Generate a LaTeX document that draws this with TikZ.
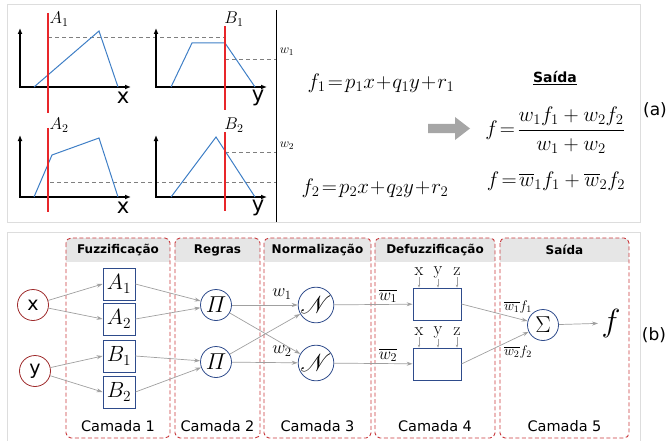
\RequirePackage{fix-cm}
\documentclass[tikz,border=0pt]{standalone}
\usepackage{amsmath}
\usepackage{mathrsfs}
\usepackage{fontspec}
\setsansfont{DejaVu Sans}
\usetikzlibrary{arrows.meta}
\newcommand\myfs[1]{\fontsize{#1}{#1}\selectfont}
\definecolor{plotred}{HTML}{E8262A}
\definecolor{plotblue}{HTML}{3F7FC6}
\definecolor{lvlgray}{HTML}{7F7F7F}
\definecolor{boxred}{HTML}{C8383C}
\definecolor{nodered}{HTML}{9E2A2B}
\definecolor{nodeblue}{HTML}{2E4B8B}
\definecolor{hdrgray}{HTML}{E6E6E6}
\definecolor{conngray}{HTML}{A0A0A0}
\definecolor{panelgray}{HTML}{DDDDDD}
\definecolor{bigarrow}{HTML}{A6A6A6}
\tikzset{
  axisline/.style={{Latex[length=6pt,width=5pt]}-{Latex[length=6pt,width=5pt]}, line width=1.2pt, black},
  mf/.style={plotblue, line width=1pt},
  cutline/.style={plotred, line width=1.1pt},
  lvl/.style={lvlgray, line width=0.8pt, dash pattern=on 4pt off 3pt},
  conn/.style={-{Stealth[length=6pt,width=4pt]}, conngray, line width=0.7pt},
  inp/.style={circle, draw=nodered, line width=0.8pt, minimum size=31pt, inner sep=0pt, font=\sffamily\myfs{19}},
  mfbox/.style={rectangle, draw=nodeblue, line width=0.8pt, minimum width=32pt, minimum height=32pt, inner sep=0pt, font=\myfs{22}},
  rulenode/.style={circle, draw=nodeblue, line width=0.8pt, minimum size=31pt, inner sep=0pt, font=\myfs{23}},
  defbox/.style={rectangle, draw=nodeblue, line width=0.8pt, minimum width=48pt, minimum height=32pt, inner sep=0pt},
  hdrtxt/.style={font=\sffamily\bfseries\myfs{12}},
  camtxt/.style={font=\sffamily\myfs{14.5}},
  axlabel/.style={font=\sffamily\myfs{21}},
  setlabel/.style={font=\myfs{17}},
  xyz/.style={font=\myfs{18}, inner sep=1pt},
  eq/.style={font=\myfs{21}},
}
\begin{document}
\begin{tikzpicture}[x=1pt,y=-1pt]
\useasboundingbox (0,0) rectangle (666,441);
% panels
\draw[panelgray, line width=1pt] (7,5) rectangle (640,222);
\draw[panelgray, line width=1pt] (7,232) rectangle (640,446);
\draw[black, line width=1pt] (276,10) -- (276,222);

% plot A1
\draw[lvl] (48,37) -- (225,37);
\draw[axisline] (20,28) -- (20,87) -- (131,87);
\draw[mf] (34,87) -- (99,31) -- (118,87);
\draw[cutline] (48,13) -- (48,113);
\node[setlabel] at (59,19) {$A_1$};
\node[axlabel] at (123,98) {x};
% plot B1
\draw[lvl] (225,59) -- (276,59);
\draw[axisline] (156,28) -- (156,87) -- (267,87);
\draw[mf] (171,87) -- (192,43) -- (225,43) -- (255,87);
\draw[cutline] (225,26) -- (225,110);
\node[setlabel] at (234,19) {$B_1$};
\node[axlabel] at (258,98) {y};
% plot A2
\draw[lvl] (50,182) -- (276,182);
\draw[axisline] (20,135) -- (20,197) -- (131,197);
\draw[mf] (34,197) -- (52,155) -- (99,138) -- (118,197);
\draw[cutline] (48,128) -- (48,212);
\node[setlabel] at (59,125) {$A_2$};
\node[axlabel] at (123,208) {x};
% plot B2
\draw[lvl] (225,152) -- (276,152);
\draw[axisline] (156,135) -- (156,197) -- (267,197);
\draw[mf] (171,197) -- (216,137) -- (255,197);
\draw[cutline] (225,132) -- (225,211);
\node[setlabel] at (234,125) {$B_2$};
\node[axlabel] at (258,208) {y};
% weights
\node[font=\myfs{13}] (w1top) at (287,52) {$w_1$};
\node[font=\myfs{13}] (w2top) at (287,146) {$w_2$};
% equations
\node[eq] (f1eq) at (381,83) {$f_1\!=\!p_1x\!+\!q_1y\!+\!r_1$};
\node[eq] (f2eq) at (375,188) {$f_2\!=\!p_2x\!+\!q_2y\!+\!r_2$};
\node[font=\sffamily\bfseries\myfs{14}] (saida) at (555,78) {\underline{Saída}};
\fill[bigarrow] (428,124) -- (455,124) -- (455,117) -- (470,128.5) -- (455,140) -- (455,133) -- (428,133) -- cycle;
\node[eq] (feq1) at (555,130) {$f\!=\!\dfrac{w_1f_1+w_2f_2}{w_1+w_2}$};
\node[eq] (feq2) at (556,181) {$f\!=\!\overline{w}_1f_1+\overline{w}_2f_2$};
\node[font=\sffamily\myfs{17}] (alabel) at (655,110) {(a)};

% layers
\foreach \xa/\xb/\ttl/\cam in {66/170/Fuzzificação/1, 175/260/Regras/2, 264/371/Normalização/3, 375/495/Defuzzificação/4, 500/629/Saída/5}{
  \begin{scope}
    \clip[rounded corners=5pt] (\xa,238) rectangle (\xb,438);
    \fill[hdrgray] (\xa,238) rectangle (\xb,262);
  \end{scope}
  \draw[boxred, line width=0.9pt, dash pattern=on 4pt off 2.5pt, rounded corners=5pt] (\xa,238) rectangle (\xb,438);
  \node[hdrtxt] (hdr\cam) at ({(\xa+\xb)/2},250) {\ttl};
  \node[camtxt] (cam\cam) at ({(\xa+\xb)/2},426) {Camada \cam};
}

% network nodes
\node[inp] (x) at (33,305) {x};
\node[inp] (y) at (35,371) {y};
\node[mfbox] (A1) at (119,284) {$A_1$};
\node[mfbox] (A2) at (119,319) {$A_2$};
\node[mfbox] (B1) at (119,356) {$B_1$};
\node[mfbox] (B2) at (119,392) {$B_2$};
\node[rulenode] (P1) at (216,305) {$\varPi$};
\node[rulenode] (P2) at (216,362) {$\varPi$};
\node[rulenode] (N1) at (316,305) {$\mathscr{N}$};
\node[rulenode] (N2) at (316,363) {$\mathscr{N}$};
\node[defbox] (D1) at (437,304) {};
\node[defbox] (D2) at (437,364) {};
\node[rulenode] (S) at (543,325) {$\Sigma$};
\node[font=\myfs{32}] (F) at (611,323) {$f$};
\node[font=\sffamily\myfs{17}] (blabel) at (654,335) {(b)};

% connectors
\draw[conn] (x) -- (A1.west);
\draw[conn] (x) -- (A2.west);
\draw[conn] (y) -- (B1.west);
\draw[conn] (y) -- (B2.west);
\draw[conn] (A1.east) -- (P1);
\draw[conn] (A2.east) -- (P1);
\draw[conn] (B1.east) -- (P2);
\draw[conn] (B2.east) -- (P2);
\draw[conn] (P1) -- (N1);
\draw[conn] (P1) -- (N2);
\draw[conn] (P2) -- (N1);
\draw[conn] (P2) -- (N2);
\draw[conn] (N1) -- (D1);
\draw[conn] (N2) -- (D2);
\draw[conn] (D1.east) -- (S);
\draw[conn] (D2.east) -- (S);
\draw[conn] (S) -- (F);

\node[font=\myfs{18}] (lw1) at (282,294) {$w_1$};
\node[font=\myfs{18}] (lw2) at (282,351) {$w_2$};
\node[font=\myfs{17}] (lwb1) at (388,296) {$\overline{w_1}$};
\node[font=\myfs{17}] (lwb2) at (388,355) {$\overline{w_2}$};
\node[font=\myfs{14}] (sw1) at (518,307) {$\overline{w_1}f_1$};
\node[font=\myfs{14}] (sw2) at (518,352) {$\overline{w_2}f_2$};

% xyz inputs
\foreach \d/\yy in {1/272, 2/332}{
  \foreach \v/\xx in {x/419, y/438, z/457}{
    \node[xyz, anchor=center] (\v\d) at (\xx,\yy) {\v};
    \draw[conn, line width=0.5pt, -{Stealth[length=3pt,width=2.5pt]}] (\v\d.south) -- (\v\d.south |- D\d.north);
  }
}
\end{tikzpicture}
\end{document}
